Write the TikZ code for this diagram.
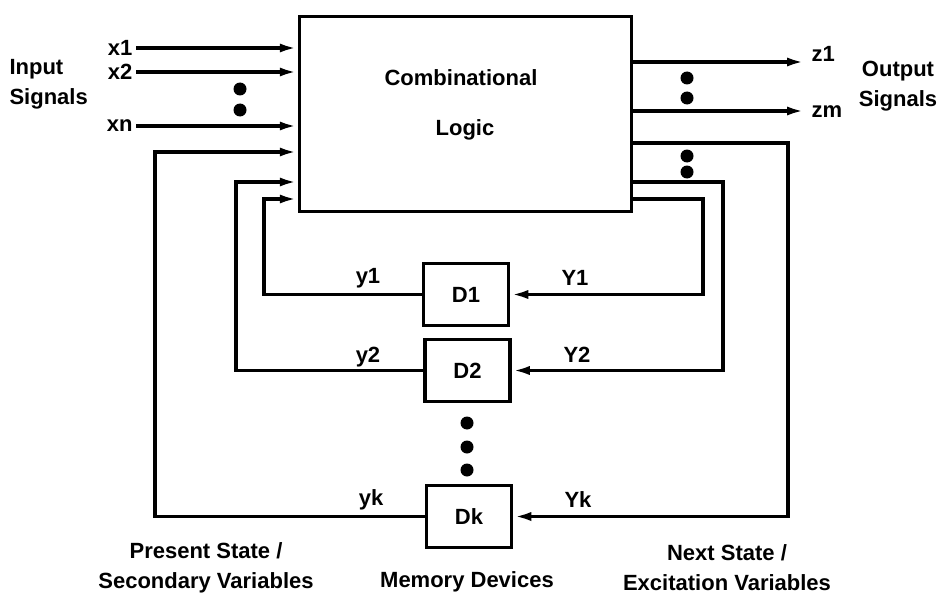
\documentclass[tikz,border=0pt]{standalone}
\usepackage{fontspec}
\setmainfont{Liberation Sans}
\usetikzlibrary{arrows.meta}
\tikzset{%
  block/.style    = {shape=rectangle, draw, line width=3.5pt, inner sep=0pt},%
  logicbox/.style = {block, minimum width=332pt, minimum height=195pt},%
  membox/.style   = {block, minimum width=85pt, minimum height=62pt},%
  sig/.style      = {line width=3.5pt},%
  sigarrow/.style = {sig, -{Latex[length=18pt,width=9pt]}},%
  bigdot/.style   = {circle, fill, inner sep=0pt, minimum size=13pt}%
}

\begin{document}
\begin{tikzpicture}[x=1pt,y=-1pt,every node/.style={font=\fontsize{22}{30}\selectfont\bfseries}]
	\useasboundingbox (0,0) rectangle (943,594);
	\node[logicbox] (logic) at (465.5,114) {};
	\node (comb) at (461,78) {Combinational};
	\node (lgc) at (465,130) {Logic};
	\node[membox] (D1) at (466,294.5) {D1};
	\node[membox] (D2) at (467.5,370.5) {D2};
	\node[membox] (Dk) at (469,516.5) {Dk};
	% inputs
	\node[anchor=west,align=left] (insig) at (6,84) {Input\\Signals};
	\node[anchor=east] (x1) at (136,48) {x1};
	\node[anchor=east] (x2) at (136,72) {x2};
	\node[anchor=east] (xn) at (136,126) {xn};
	\foreach \s in {x1,x2,xn}
		\draw[sigarrow] (\s.east) -- (\s.east -| logic.west);
	% outputs
	\coordinate (zo1) at (805,62);
	\coordinate (zom) at (805,111);
	\draw[sigarrow] (zo1 -| logic.east) -- (zo1);
	\draw[sigarrow] (zom -| logic.east) -- (zom);
	\node[anchor=west] (z1) at (808,54) {z1};
	\node[anchor=west] (zm) at (808,112) {zm};
	\node[align=center] (outsig) at (898,86) {Output\\Signals};
	% present state back into the logic
	\coordinate (l1) at (264,199);
	\coordinate (l2) at (236,182);
	\coordinate (lk) at (155,152);
	\draw[sigarrow] (D1.west) -| (l1) -- (l1 -| logic.west);
	\draw[sigarrow] (D2.west) -| (l2) -- (l2 -| logic.west);
	\draw[sigarrow] (Dk.west) -| (lk) -- (lk -| logic.west);
	% next state out to the memory
	\coordinate (r1) at (703,199);
	\coordinate (r2) at (723,182);
	\coordinate (rk) at (788,143);
	\draw[sigarrow] (r1 -| logic.east) -- (r1) |- (D1.east);
	\draw[sigarrow] (r2 -| logic.east) -- (r2) |- (D2.east);
	\draw[sigarrow] (rk -| logic.east) -- (rk) |- (Dk.east);
	\node (y1) at (368,278) {y1};
	\node (Y1) at (575,278) {Y1};
	\node (y2) at (368,357) {y2};
	\node (Y2) at (577,355) {Y2};
	\node (yk) at (371,500) {yk};
	\node (Yk) at (578,500) {Yk};
	% ellipsis dots
	\foreach \px/\py [count=\i] in {240/89,240/110,687/78,687/98,687/156,687/172,467/423,467/447,467/470}
		\node[bigdot] (dot\i) at (\px,\py) {};
	\node[align=center] (present) at (206,568) {Present State /\\Secondary Variables};
	\node (memory) at (467,582) {Memory Devices};
	\node[align=center] (next) at (727,568) {Next State /\\Excitation Variables};
\end{tikzpicture}
\end{document}
